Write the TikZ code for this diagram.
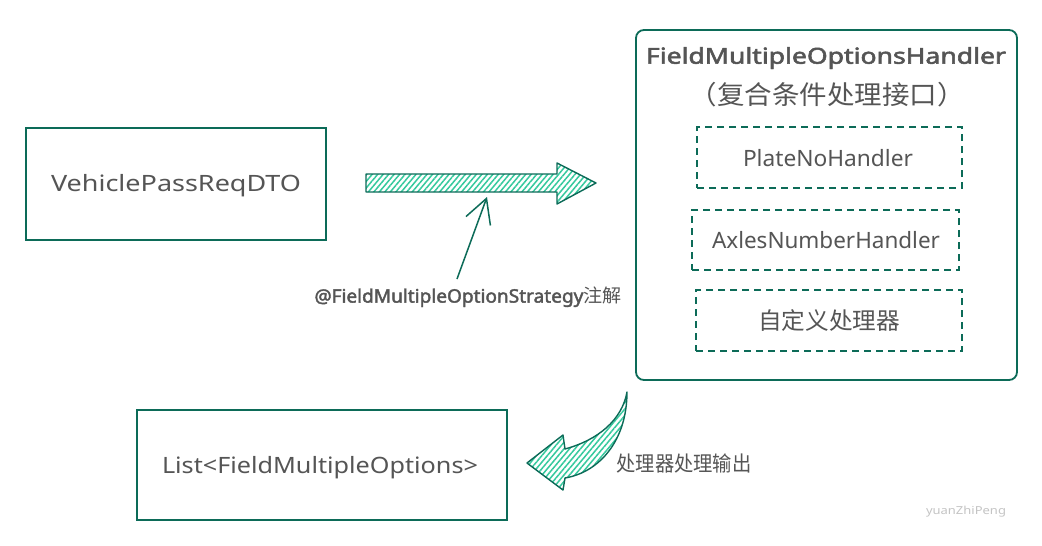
\documentclass[tikz,border=0pt]{standalone}
\usepackage{fontspec}
\setmainfont{Noto Sans}
\newfontfamily\heavy{Noto Sans}[FakeBold=2.2]
\newfontfamily\cjk{Noto Sans CJK SC}
\usetikzlibrary{patterns.meta,arrows.meta}
\definecolor{edge}{HTML}{0C6B58}
\definecolor{hatch}{HTML}{34C99D}
\definecolor{ink}{HTML}{555555}
\definecolor{mark}{HTML}{C4C4C4}
\newcommand\fitwd[2]{\sbox0{#2}\pgfmathsetmacro\fitsc{#1/\the\wd0}\scalebox{\fitsc}[1]{\usebox0}}
\tikzset{
  box/.style={draw=edge,line width=1.8pt,inner sep=0pt},
  dbox/.style={draw=edge,line width=2.2pt,dash pattern=on 7pt off 5pt,inner sep=0pt},
  lbl/.style={text=ink,inner sep=0pt,font=\fontsize{22.5}{25}\selectfont},
  hatched/.style={draw=edge,line width=1.4pt,line join=round,
    pattern={Lines[angle=50,distance=4.2pt,line width=1.5pt]},pattern color=hatch},
  pointer/.style={draw=edge,line width=1.5pt,-{Straight Barb[length=24pt,width=26pt,line width=1.5pt]}}
}
\begin{document}
\begin{tikzpicture}[x=1pt,y=-1pt]
\useasboundingbox[fill=white] (0,0) rectangle (1042,546);

% boxes
\node[box,minimum width=300pt,minimum height=112pt] (vp) at (176,184) {};
\node[lbl] (vpt) at (176,186) {\fitwd{250pt}{VehiclePassReqDTO}};

\node[box,rounded corners=8pt,minimum width=381pt,minimum height=350pt] (big) at (826.5,205) {};
\node[lbl,font=\fontsize{22}{24}\selectfont\heavy] (t1) at (826,58) {\fitwd{360pt}{FieldMultipleOptionsHandler}};
\node[lbl,font=\fontsize{26}{28}\selectfont\cjk] (t2) at (827,95) {\fitwd{275pt}{（复合条件处理接口）}};

\node[dbox,minimum width=265pt,minimum height=61pt] (plate) at (829.5,157.5) {};
\node[lbl] (platet) at (828,158) {\fitwd{170pt}{PlateNoHandler}};
\node[dbox,minimum width=267pt,minimum height=60pt] (axles) at (825.5,240) {};
\node[lbl] (axlest) at (826,240) {\fitwd{228pt}{AxlesNumberHandler}};
\node[dbox,minimum width=266pt,minimum height=61pt] (custom) at (829,320.5) {};
\node[lbl,font=\fontsize{23.5}{25}\selectfont\cjk] (customt) at (829,321) {\fitwd{142pt}{自定义处理器}};

\node[box,minimum width=370pt,minimum height=110pt] (list) at (322,465) {};
\node[lbl] (listt) at (320,468) {\fitwd{316pt}{List<FieldMultipleOptions>}};

% main hatched arrow
\draw[hatched] (366,174) -- (557,174) -- (557,163) -- (596,183) -- (557,204) -- (557,192) -- (366,192) -- cycle;

% annotation
\node[lbl,font=\fontsize{18.5}{20}\selectfont\heavy] (ann) at (468,297) {\fitwd{307pt}{@FieldMultipleOptionStrategy{\cjk 注解}}};
\coordinate (annTop) at (457,279);
\coordinate (hit) at (487,197);
\draw[pointer] (annTop) -- (hit);

% curved hatched arrow
\draw[hatched] (627,392) .. controls (627,440) and (600,472) .. (565,478)
  -- (563,490) -- (527,463) -- (563,435) -- (565,449)
  .. controls (598,440) and (622,420) .. (627,392) -- cycle;
\node[lbl,font=\fontsize{21}{23}\selectfont\cjk] (out) at (684,463) {\fitwd{135pt}{处理器处理输出}};

% watermark
\node[text=mark,inner sep=0pt,font=\fontsize{11}{12}\selectfont] (wm) at (966,512) {\fitwd{80pt}{yuanZhiPeng}};
\end{tikzpicture}
\end{document}
